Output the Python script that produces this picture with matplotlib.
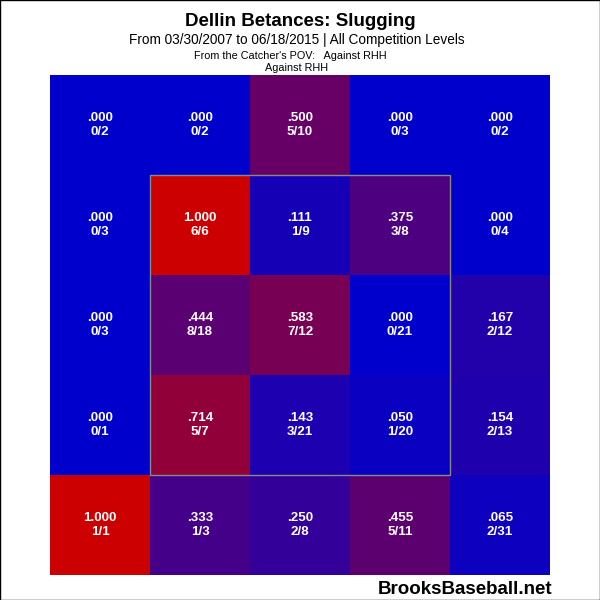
import matplotlib
matplotlib.use("Agg")
import matplotlib.pyplot as plt
import numpy as np
from matplotlib.colors import LinearSegmentedColormap
from matplotlib.patches import Rectangle

title = "Dellin Betances: Slugging"
subtitle = "From 03/30/2007 to 06/18/2015 | All Competition Levels"
line3 = "From the Catcher's POV:   Against RHH"
line4 = "Against RHH"

# rows top to bottom
slg = [
    [0.000, 0.000, 0.500, 0.000, 0.000],
    [0.000, 1.000, 0.111, 0.375, 0.000],
    [0.000, 0.444, 0.583, 0.000, 0.167],
    [0.000, 0.714, 0.143, 0.050, 0.154],
    [1.000, 0.333, 0.250, 0.455, 0.065],
]
tb = [
    [0, 0, 5, 0, 0],
    [0, 6, 1, 3, 0],
    [0, 8, 7, 0, 2],
    [0, 5, 3, 1, 2],
    [1, 1, 2, 5, 2],
]
ab = [
    [2, 2, 10, 3, 2],
    [3, 6, 9, 8, 4],
    [3, 18, 12, 21, 12],
    [1, 7, 21, 20, 13],
    [1, 3, 8, 11, 31],
]

fig = plt.figure(figsize=(6, 6), dpi=100)
fig.patch.set_facecolor("white")
ax = fig.add_axes([50/600, 25/600, 500/600, 500/600])
cmap = LinearSegmentedColormap.from_list("br", [(0, 0, 0.8), (0.8, 0, 0)])
data = np.array(slg)
ax.pcolormesh(np.arange(6), np.arange(6), data[::-1], cmap=cmap, vmin=0, vmax=1)
ax.set_xlim(0, 5)
ax.set_ylim(0, 5)
ax.axis("off")

ax.add_patch(Rectangle((1, 1), 3, 3, fill=False, edgecolor="#888888", lw=1))

for r in range(5):
    for c in range(5):
        v = slg[r][c]
        s = f"{v:.3f}"
        if v < 1:
            s = s[1:]
        y = 4.5 - r
        ax.text(c + 0.5, y + 0.07, s, color="white", fontsize=9.6, fontweight="bold",
                ha="center", va="center", family="Liberation Sans")
        ax.text(c + 0.5, y - 0.07, f"{tb[r][c]}/{ab[r][c]}", color="white", fontsize=9.6,
                fontweight="bold", ha="center", va="center", family="Liberation Sans")

fig.text(0.5, 1 - 22/600, title, ha="center", va="center", fontsize=13.5, fontweight="bold",
         family="Liberation Sans")
fig.text(297/600, 1 - 40/600, subtitle, ha="center", va="center", fontsize=9.85,
         family="Liberation Sans")
fig.text(290/600, 1 - 56/600, line3, ha="center", va="center", fontsize=7.8,
         family="Liberation Sans")
fig.text(297/600, 1 - 68/600, line4, ha="center", va="center", fontsize=7.8,
         family="Liberation Sans")
fig.text(552/600, 1 - 589/600, "BrooksBaseball.net", ha="right", va="center", fontsize=13.5,
         fontweight="bold", family="Liberation Sans")

fig.add_artist(Rectangle((0, 0), 1, 1, transform=fig.transFigure, fill=False,
                         edgecolor="black", lw=1))

fig.savefig("out.png", dpi=100)
